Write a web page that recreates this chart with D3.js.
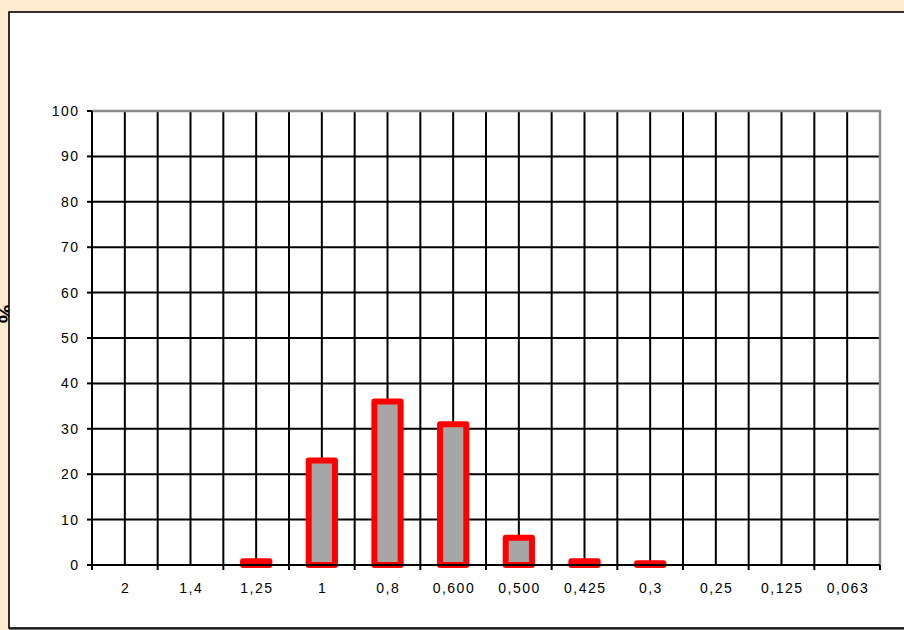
<!DOCTYPE html>
<html>
<head>
<meta charset="utf-8">
<script src="https://cdn.jsdelivr.net/npm/d3@7/dist/d3.min.js"></script>
<style>
html,body{margin:0;padding:0;background:#FFEBCD;}
svg{display:block;}
text{font-family:"Liberation Sans",Arial,sans-serif;}
</style>
</head>
<body>
<svg id="chart" width="904" height="630"></svg>
<script>
const categories = ["2","1,4","1,25","1","0,8","0,600","0,500","0,425","0,3","0,25","0,125","0,063"];
const values = [0,0,0.8,23,36,31,6,0.8,0.4,0,0,0];
const yTicks = [0,10,20,30,40,50,60,70,80,90,100];
const yLabel = "%";

const svg = d3.select("#chart");
const W = 904, H = 630;
const plot = {left:92, right:880, top:111, bottom:565};

svg.append("rect").attr("width",W).attr("height",H).attr("fill","#FFEBCD");

// y axis title (partly hidden behind chart box)
svg.append("text")
  .attr("transform","translate(13,314) rotate(-90)")
  .attr("text-anchor","middle")
  .attr("font-size",21).attr("font-weight","bold")
  .text(yLabel);

// chart box
svg.append("rect").attr("x",10).attr("y",13).attr("width",W).attr("height",616)
  .attr("fill","none").attr("stroke","#777").attr("stroke-width",2);
svg.append("rect").attr("x",9).attr("y",12).attr("width",W).attr("height",616)
  .attr("fill","#fff").attr("stroke","#000").attr("stroke-width",1.6);

const x = d3.scaleBand().domain(categories).range([plot.left,plot.right]).padding(0);
const y = d3.scaleLinear().domain([0,100]).range([plot.bottom,plot.top]);
const bw = x.bandwidth();
const barW = bw/2.5;

const g = svg.append("g");

// horizontal gridlines
g.selectAll("line.hg").data(yTicks.filter(t=>t>0 && t<100)).enter().append("line")
  .attr("x1",plot.left).attr("x2",plot.right)
  .attr("y1",d=>y(d)).attr("y2",d=>y(d))
  .attr("stroke","#000").attr("stroke-width",2);

// vertical gridlines at boundaries and centers
const vpos = [];
categories.forEach((c,i)=>{ if(i>0) vpos.push(x(c)); vpos.push(x(c)+bw/2); });
g.selectAll("line.vg").data(vpos).enter().append("line")
  .attr("x1",d=>d).attr("x2",d=>d)
  .attr("y1",plot.top).attr("y2",plot.bottom)
  .attr("stroke","#000").attr("stroke-width",2);

// plot border top/right (gray)
g.append("path")
  .attr("d",`M${plot.left},${plot.top}H${plot.right}V${plot.bottom}`)
  .attr("fill","none").attr("stroke","#8c8c8c").attr("stroke-width",2.5);

// bars
g.selectAll("rect.bar").data(categories.map((c,i)=>({c,v:values[i]})).filter(d=>d.v>0))
  .enter().append("rect")
  .attr("x",d=>x(d.c)+bw/2-barW/2)
  .attr("width",barW)
  .attr("y",d=>y(d.v))
  .attr("height",d=>y(0)-y(d.v))
  .attr("fill","#A6A6A6").attr("stroke","#FF0000").attr("stroke-width",6)
  .attr("stroke-linejoin","round");

// axes lines
g.append("line").attr("x1",plot.left).attr("x2",plot.right).attr("y1",plot.bottom).attr("y2",plot.bottom)
  .attr("stroke","#000").attr("stroke-width",2);
g.append("line").attr("x1",plot.left).attr("x2",plot.left).attr("y1",plot.top).attr("y2",plot.bottom)
  .attr("stroke","#000").attr("stroke-width",2);

// y ticks + labels
g.selectAll("line.yt").data(yTicks).enter().append("line")
  .attr("x1",plot.left-5).attr("x2",plot.left)
  .attr("y1",d=>y(d)).attr("y2",d=>y(d))
  .attr("stroke","#000").attr("stroke-width",2);
g.selectAll("text.yl").data(yTicks).enter().append("text")
  .attr("x",79.5).attr("y",d=>y(d)+5)
  .attr("text-anchor","end").attr("font-size",14).attr("fill","#000")
  .attr("letter-spacing","1.5")
  .text(d=>d);

// x ticks at boundaries
const xb = categories.map(c=>x(c)).concat([plot.right]);
g.selectAll("line.xt").data(xb).enter().append("line")
  .attr("x1",d=>d).attr("x2",d=>d)
  .attr("y1",plot.bottom).attr("y2",plot.bottom+5)
  .attr("stroke","#000").attr("stroke-width",2);
g.selectAll("text.xl").data(categories).enter().append("text")
  .attr("x",d=>x(d)+bw/2+0.75).attr("y",593)
  .attr("text-anchor","middle").attr("font-size",14).attr("fill","#000")
  .attr("letter-spacing","1.5")
  .text(d=>d);
</script>
</body>
</html>
